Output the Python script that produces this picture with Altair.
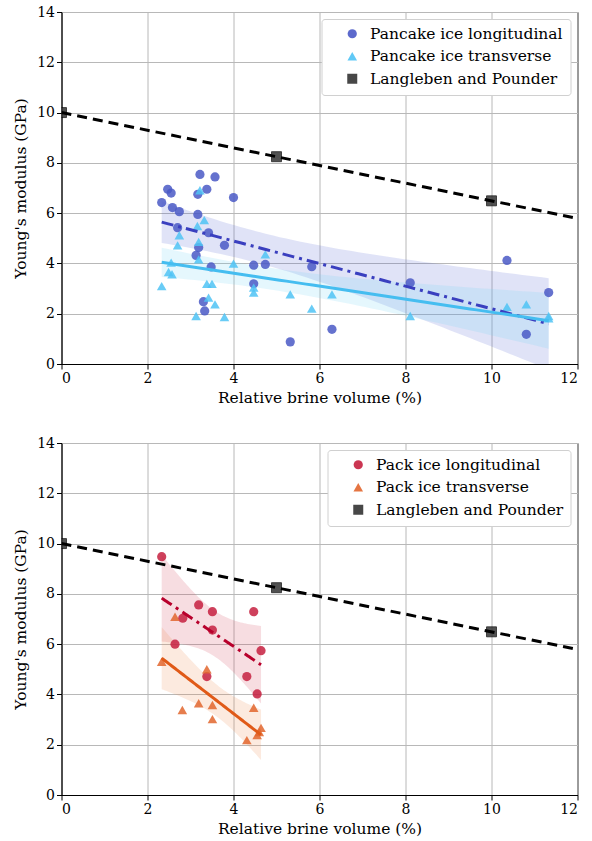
import altair as alt
import numpy as np
import pandas as pd

FONT = "DejaVu Serif"

# ---------------- data ----------------
pl_x = [3.22, 3.57, 2.47, 2.55, 3.38, 3.17, 4.00, 2.33, 2.58, 2.74, 3.17, 2.70, 3.42, 3.79,
        3.19, 3.13, 3.48, 4.47, 4.74, 4.47, 3.30, 3.33, 5.82, 5.32, 6.29, 8.11, 10.36, 11.33, 10.81]
pl_y = [7.54, 7.44, 6.95, 6.80, 6.95, 6.75, 6.62, 6.42, 6.22, 6.06, 5.95, 5.42, 5.22, 4.72,
        4.63, 4.32, 3.86, 3.93, 3.96, 3.19, 2.48, 2.11, 3.87, 0.88, 1.38, 3.23, 4.12, 2.84, 1.18]

pt_x = [3.22, 3.32, 3.16, 2.74, 2.70, 3.19, 3.19, 4.00, 2.55, 2.49, 2.57, 2.33, 3.38, 3.50,
        3.42, 3.57, 3.13, 3.79, 4.47, 4.47, 4.74, 5.32, 5.82, 6.29, 8.11, 10.36, 10.81, 11.33, 11.33]
pt_y = [6.91, 5.72, 5.49, 5.12, 4.72, 4.86, 4.16, 3.99, 4.03, 3.66, 3.57, 3.10, 3.19, 3.19,
        2.64, 2.37, 1.91, 1.87, 3.04, 2.84, 4.36, 2.77, 2.20, 2.77, 1.91, 2.27, 2.37, 1.91, 1.82]

kl_x = [2.33, 3.19, 3.51, 4.47, 2.82, 3.51, 2.64, 4.64, 3.38, 4.31, 4.55]
kl_y = [9.48, 7.56, 7.29, 7.29, 7.03, 6.56, 6.00, 5.74, 4.71, 4.71, 4.02]

kt_x = [2.64, 2.33, 3.38, 2.81, 3.19, 3.51, 3.51, 4.47, 4.31, 4.64, 4.55, 4.60]
kt_y = [7.09, 5.30, 5.00, 3.38, 3.65, 3.58, 3.02, 3.47, 2.18, 2.67, 2.38, 2.50]

lp_x = [0, 5, 10]
lp_y = [10.0, 8.245, 6.49]
lp_line_x = [0, 12]
lp_line_y = [10.0, 5.788]

LP = "Langleben and Pounder"


def t_quant(df):
    z = 1.959964
    return z + (z**3 + z) / (4 * df) + (5 * z**5 + 16 * z**3 + 3 * z) / (96 * df**2)


def fit_band(x, y, n=60):
    x = np.asarray(x, float)
    y = np.asarray(y, float)
    b, a = np.polyfit(x, y, 1)
    xs = np.linspace(x.min(), x.max(), n)
    yh = a + b * xs
    r = y - (a + b * x)
    m = len(x)
    s = np.sqrt((r**2).sum() / (m - 2))
    sxx = ((x - x.mean())**2).sum()
    se = s * np.sqrt(1 / m + (xs - x.mean())**2 / sxx)
    t = t_quant(m - 2)
    return pd.DataFrame({"x": xs, "y": yh, "lo": yh - t * se, "hi": yh + t * se})


def panel(s1, x1, y1, s2, x2, y2, c1, c2, l1, l2, b1, b2):
    pts = pd.DataFrame({
        "x": list(x1) + list(x2) + lp_x,
        "y": list(y1) + list(y2) + lp_y,
        "series": [s1] * len(x1) + [s2] * len(x2) + [LP] * len(lp_x),
    })
    domain = [s1, s2, LP]
    xs = alt.Scale(domain=[0, 12], nice=False)
    ys = alt.Scale(domain=[0, 14], nice=False)
    xax = alt.Axis(values=list(range(0, 13, 2)), title="Relative brine volume (%)")
    yax = alt.Axis(values=list(range(0, 15, 2)), title="Young's modulus (GPa)",
                   titleX=-33, titleBaseline="bottom")
    X = alt.X("x:Q", scale=xs, axis=xax)
    Y = alt.Y("y:Q", scale=ys, axis=yax)

    f1 = fit_band(x1, y1)
    f2 = fit_band(x2, y2)

    band1 = alt.Chart(f1).mark_area(color=b1, opacity=0.18, clip=True).encode(
        x=X, y=alt.Y("lo:Q", scale=ys, axis=yax), y2="hi:Q")
    band2 = alt.Chart(f2).mark_area(color=b2, opacity=0.18, clip=True).encode(
        x=X, y=alt.Y("lo:Q", scale=ys, axis=yax), y2="hi:Q")

    scat = alt.Chart(pts).mark_point(filled=True, opacity=0.85, strokeWidth=0.8, clip=True).encode(
        x=X, y=Y,
        color=alt.Color("series:N", scale=alt.Scale(domain=domain, range=[c1, c2, "#333333"]),
                        title=None,
                        legend=alt.Legend(orient="top-right", offset=7, labelFont=FONT,
                                          labelFontSize=15.5, labelColor="black", labelLimit=0,
                                          fillColor="white", strokeColor="#d0d0d0",
                                          cornerRadius=3, padding=7, rowPadding=5.5,
                                          symbolSize=60, symbolOpacity=0.9,
                                          labelOffset=10, symbolOffset=16)),
        shape=alt.Shape("series:N", scale=alt.Scale(domain=domain,
                                                     range=["circle", "triangle-up", "square"]),
                        title=None),
        size=alt.Size("series:N", scale=alt.Scale(domain=domain, range=[85, 100, 60]), legend=None),
        stroke=alt.condition(alt.datum.series == LP, alt.value("black"), alt.value(None)),
    )

    line1 = alt.Chart(f1).mark_line(color=l1, strokeWidth=3, strokeDash=[12, 5, 3, 5]).encode(x=X, y=Y)
    line2 = alt.Chart(f2).mark_line(color=l2, strokeWidth=3).encode(x=X, y=Y)

    lpdf = pd.DataFrame({"x": lp_line_x, "y": lp_line_y})
    lpline = alt.Chart(lpdf).mark_line(color="black", strokeWidth=3, strokeDash=[10, 6], clip=True).encode(x=X, y=Y)

    return alt.layer(band1, band2, scat, line1, line2, lpline).properties(width=516, height=352)


top = panel("Pancake ice longitudinal", pl_x, pl_y, "Pancake ice transverse", pt_x, pt_y,
            "#4a59c6", "#4fc3f5", "#3a3fbf", "#45bdf0", "#5565d0", "#6fd0f5")
bot = panel("Pack ice longitudinal", kl_x, kl_y, "Pack ice transverse", kt_x, kt_y,
            "#c5203f", "#e2662e", "#b8002c", "#e05a18", "#d0405a", "#f08a50")

chart = alt.vconcat(top, bot, spacing=29).resolve_scale(
    color="independent", shape="independent", stroke="independent", size="independent"
).resolve_legend(color="independent", shape="independent").properties(
    padding={"left": 12.5, "top": 4, "right": 5, "bottom": 5},
    background="white",
).configure_view(stroke="black", strokeWidth=1).configure_axis(
    labelFont=FONT, titleFont=FONT, labelFontSize=14, titleFontSize=15.5,
    titleFontWeight="normal", labelColor="black", titleColor="black",
    domainColor="black", tickColor="black", tickSize=5, grid=True,
    gridColor="#b8b8b8", gridWidth=1, labelPadding=2, titlePadding=5,
)

chart.save("out.html", embed_options={"renderer": "svg", "actions": False})
